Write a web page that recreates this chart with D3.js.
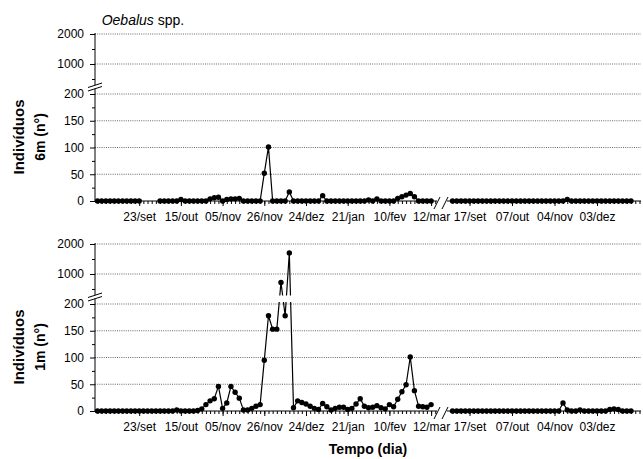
<!DOCTYPE html>
<html>
<head>
<meta charset="utf-8">
<script src="https://cdn.jsdelivr.net/npm/d3@7"></script>
<style>
  body { margin: 0; background: #fff; }
  svg text { font-family: Arial, "Liberation Sans", sans-serif; fill: #000; }
</style>
</head>
<body>
<div id="chart"></div>
<script>
// tick labels for the two stretches of the time axis (sample index -> label)
var leftLabels = ["23/set", "15/out", "05/nov", "26/nov", "24/dez", "21/jan", "10/fev", "12/mar"];
var leftLabelIdx = [10, 20, 30, 40, 50, 60, 70, 80];
var rightLabels = ["17/set", "07/out", "04/nov", "03/dez"];
var rightLabelIdx = [4, 14, 24, 34];

// individuals at 6 m, first season (null = no sample)
var n6mLeft = [0,0,0,0,0,0,0,0,0,0,0, null,null,null,null,
  0,0,0,0,0, 3, 0,0,0,0,0,0, 4,6,7,0,3,4,4,5, 0,0,0,0,0,
  52,101, 0,0,0,0, 17, 0,0,0,0,0,0,0, 10,
  0,0,0,0,0,0,0,0,0,0, 2,0,4, 0,0,0,0, 5,8,11,14,8, 0,0,0,0];
// individuals at 6 m, second season
var n6mRight = [0,0,0,0,0,0,0,0,0,0,0,0,0,0,0,0,0,0,0,0,0,0,0,0,0,0,0,3,0,0,0,0,0,0,0,0,0,0,0,0,0,0,0];

// individuals at 1 m, first season
var n1mLeft = [0,0,0,0,0,0,0,0,0,0,0,0,0,0,0,0,0,0,0, 2, 0,0,0,0,
  1,4,12,19,23,46,5,15,46,35,24,2,2,5,9,12,
  95,178,153,153,720,178,1700,6,19,16,13,9,5,3,14,8,2,5,7,7,
  3,5,13,23,9,6,7,10,6,4,12,8,22,36,49,101,38,9,8,7,12];
// individuals at 1 m, second season
var n1mRight = [0,0,0,0,0,0,0,0,0,0,0,0,0,0,0,0,0,0,0,0,0,0,0,0,0,0,15,2,0,0,2,0,0,0,0,0,0,3,4,3,0,0,0];

var width = 643, height = 459;
var svg = d3.select("#chart").append("svg")
  .attr("width", width)
  .attr("height", height);

// x: two stretches with a break between them
var xL = d3.scaleLinear().domain([0, 80]).range([97.5, 431.1]);
var xR = d3.scaleLinear().domain([0, 42]).range([452.5, 631]);
// y: broken axis, 0-200 below and 1000-2000 above
var yLow = d3.scaleLinear().domain([0, 200]).range([201, 94]);
var yHigh = d3.scaleLinear().domain([1000, 2000]).range([64, 34]);
function y(v) { return v <= 200 ? yLow(v) : yHigh(v); }

var axisX0 = 95, axisX1 = 641;
var fmt = d3.format("d");

function noDomain(g) { g.select(".domain").remove(); }

function drawPanel(offset, leftData, rightData, label2) {
  var g = svg.append("g").attr("transform", "translate(0," + offset + ")");

  // dotted grid
  g.selectAll(".grid").data([50, 100, 150, 200, 1000, 2000]).enter()
    .append("line")
    .attr("x1", axisX0).attr("x2", axisX1)
    .attr("y1", function(d) { return y(d); })
    .attr("y2", function(d) { return y(d); })
    .attr("stroke", "#444").attr("stroke-width", 0.8)
    .attr("stroke-dasharray", "1,1.2");

  var line = d3.line()
    .defined(function(d) { return d != null; })
    .y(function(d) { return y(d); });

  g.append("path").datum(leftData)
    .attr("d", line.x(function(d, i) { return xL(i); }))
    .attr("fill", "none").attr("stroke", "#000").attr("stroke-width", 1.2);
  g.append("path").datum(rightData)
    .attr("d", line.x(function(d, i) { return xR(i); }))
    .attr("fill", "none").attr("stroke", "#000").attr("stroke-width", 1.2);

  // gap for the axis break
  g.append("rect").attr("x", axisX0 + 1).attr("y", 85.5)
    .attr("width", axisX1 - axisX0).attr("height", 6.5).attr("fill", "#fff");

  g.selectAll(".ptL").data(leftData.map(function(d, i) { return {v: d, i: i}; })
      .filter(function(d) { return d.v != null; }))
    .enter().append("circle")
    .attr("cx", function(d) { return xL(d.i); })
    .attr("cy", function(d) { return y(d.v); })
    .attr("r", 2.7).attr("fill", "#000");
  g.selectAll(".ptR").data(rightData.map(function(d, i) { return {v: d, i: i}; }))
    .enter().append("circle")
    .attr("cx", function(d) { return xR(d.i); })
    .attr("cy", function(d) { return y(d.v); })
    .attr("r", 2.7).attr("fill", "#000");

  // y axis
  g.append("g").attr("transform", "translate(" + axisX0 + ",0)")
    .call(d3.axisLeft(yLow).tickValues([0, 50, 100, 150, 200]).tickSize(5).tickPadding(6).tickFormat(fmt))
    .call(noDomain);
  g.append("g").attr("transform", "translate(" + axisX0 + ",0)")
    .call(d3.axisLeft(yLow).tickValues([25, 75, 125, 175]).tickSize(3).tickFormat(""))
    .call(noDomain);
  g.append("g").attr("transform", "translate(" + axisX0 + ",0)")
    .call(d3.axisLeft(yHigh).tickValues([1000, 2000]).tickSize(5).tickPadding(6).tickFormat(fmt))
    .call(noDomain);
  g.append("g").attr("transform", "translate(" + axisX0 + ",0)")
    .call(d3.axisLeft(yHigh).tickValues([500, 1500]).tickSize(3).tickFormat(""))
    .call(noDomain);
  g.append("line").attr("x1", axisX0).attr("x2", axisX0).attr("y1", 33).attr("y2", 85.2)
    .attr("stroke", "#000");
  g.append("line").attr("x1", axisX0).attr("x2", axisX0).attr("y1", 88.7).attr("y2", 201)
    .attr("stroke", "#000");
  g.append("line").attr("x1", 88).attr("y1", 87.5).attr("x2", 102).attr("y2", 83)
    .attr("stroke", "#000");
  g.append("line").attr("x1", 88).attr("y1", 91).attr("x2", 102).attr("y2", 86.5)
    .attr("stroke", "#000");

  // x axis, left stretch
  var xBase = yLow(0);
  g.append("g").attr("transform", "translate(0," + xBase + ")")
    .call(d3.axisBottom(xL).tickValues(d3.range(0, 82)).tickSize(3).tickFormat(""))
    .call(noDomain);
  g.append("g").attr("transform", "translate(0," + xBase + ")")
    .call(d3.axisBottom(xL).tickValues(leftLabelIdx).tickSize(5).tickPadding(6.5)
      .tickFormat(function(d) { return leftLabels[leftLabelIdx.indexOf(d)]; }))
    .call(noDomain);
  // x axis, right stretch
  g.append("g").attr("transform", "translate(0," + xBase + ")")
    .call(d3.axisBottom(xR).tickValues(d3.range(0, 45)).tickSize(3).tickFormat(""))
    .call(noDomain);
  g.append("g").attr("transform", "translate(0," + xBase + ")")
    .call(d3.axisBottom(xR).tickValues(rightLabelIdx).tickSize(5).tickPadding(6.5)
      .tickFormat(function(d) { return rightLabels[rightLabelIdx.indexOf(d)]; }))
    .call(noDomain);
  g.append("line").attr("x1", axisX0).attr("x2", 437).attr("y1", xBase).attr("y2", xBase)
    .attr("stroke", "#000");
  g.append("line").attr("x1", 447).attr("x2", axisX1).attr("y1", xBase).attr("y2", xBase)
    .attr("stroke", "#000");
  g.append("line").attr("x1", 434).attr("y1", 209).attr("x2", 440).attr("y2", 197)
    .attr("stroke", "#000");
  g.append("line").attr("x1", 442).attr("y1", 209).attr("x2", 448).attr("y2", 197)
    .attr("stroke", "#000");

  g.selectAll(".tick text").style("font-size", "12px");

  // y title
  g.append("text")
    .attr("transform", "translate(23.5,137) rotate(-90)")
    .attr("text-anchor", "middle")
    .style("font-size", "15px").style("font-weight", "bold")
    .text("Indivíduos");
  g.append("text")
    .attr("transform", "translate(45,137) rotate(-90)")
    .attr("text-anchor", "middle")
    .style("font-size", "14px").style("font-weight", "bold")
    .text(label2);
}

drawPanel(0, n6mLeft, n6mRight, "6m (n°)");
drawPanel(210, n1mLeft, n1mRight, "1m (n°)");

// title
var title = svg.append("text").attr("x", 101.7).attr("y", 25).style("font-size", "14px");
title.append("tspan").style("font-style", "italic").text("Oebalus");
title.append("tspan").text(" spp.");

svg.append("text")
  .attr("x", 368).attr("y", 453.5)
  .attr("text-anchor", "middle")
  .style("font-size", "14px").style("font-weight", "bold")
  .text("Tempo (dia)");
</script>
</body>
</html>
